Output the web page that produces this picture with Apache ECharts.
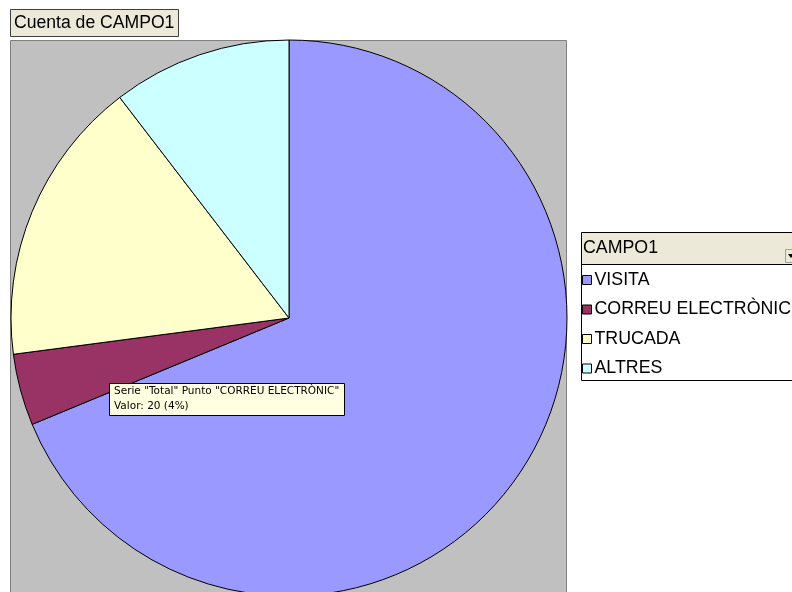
<!DOCTYPE html>
<html>
<head>
<meta charset="utf-8">
<style>
  html, body { margin: 0; padding: 0; background: #ffffff; }
  #chart { width: 792px; height: 592px; }
</style>
<script src="https://cdn.jsdelivr.net/npm/echarts@6/dist/echarts.min.js"></script>
</head>
<body>
<div id="chart"></div>
<script>
// Counts of CAMPO1 by contact type
const categories = ['VISITA', 'CORREU ELECTRÒNIC', 'TRUCADA', 'ALTRES'];
const counts = [330, 20, 80, 50];
const sliceColors = ['#9999FF', '#993366', '#FFFFCC', '#CCFFFF'];
const chartTitle = 'Cuenta de CAMPO1';
const fieldName = 'CAMPO1';
const seriesName = 'Total';
const hoverIndex = 1;

const total = counts.reduce((a, b) => a + b, 0);
const hoverPct = Math.round(counts[hoverIndex] / total * 100);

const chart = echarts.init(document.getElementById('chart'), null, { renderer: 'canvas' });
const FONT = '"Liberation Sans", Arial, sans-serif';
const TIP_FONT = '10.5px "DejaVu Sans", Tahoma, sans-serif';

chart.setOption({
  animation: false,
  backgroundColor: '#ffffff',
  graphic: [
    // plot area
    { type: 'rect', z: 0, shape: { x: 10.5, y: 40.5, width: 556, height: 560 },
      style: { fill: '#C0C0C0', stroke: '#808080', lineWidth: 1 } },
    // chart title box
    { type: 'rect', z: 0, shape: { x: 10.5, y: 9.5, width: 168, height: 27 },
      style: { fill: '#ECE9D8', stroke: '#404040', lineWidth: 1 } },
    { type: 'text', z: 1, x: 14, y: 23,
      style: { text: chartTitle, font: '17.6px ' + FONT, fill: '#000', verticalAlign: 'middle' } },
    // field list box
    { type: 'rect', z: 0, shape: { x: 581.5, y: 232.5, width: 220, height: 148 },
      style: { fill: '#ffffff', stroke: '#000000', lineWidth: 1 } },
    { type: 'rect', z: 0, shape: { x: 582, y: 233, width: 220, height: 31 },
      style: { fill: '#ECE9D8', stroke: null } },
    { type: 'line', z: 1, shape: { x1: 581, y1: 264.5, x2: 792, y2: 264.5 },
      style: { stroke: '#000000', lineWidth: 1 } },
    { type: 'text', z: 1, x: 583, y: 248,
      style: { text: fieldName, font: '17.8px ' + FONT, fill: '#000', verticalAlign: 'middle' } },
    // dropdown button
    { type: 'rect', z: 1, shape: { x: 785.5, y: 249.5, width: 12, height: 13 },
      style: { fill: '#ECE9D8', stroke: '#A0A0A0', lineWidth: 1 } },
    { type: 'polygon', z: 2, shape: { points: [[788, 254], [794, 254], [791, 258]] },
      style: { fill: '#000000' } },
    // hover tip
    { type: 'rect', z: 100, shape: { x: 109.5, y: 383.5, width: 235, height: 32 },
      style: { fill: '#FFFFE1', stroke: '#000000', lineWidth: 1 } },
    { type: 'text', z: 101, x: 114, y: 391,
      style: { text: 'Serie "' + seriesName + '" Punto "' + categories[hoverIndex] + '"',
               font: TIP_FONT, fill: '#000', verticalAlign: 'middle' } },
    { type: 'text', z: 101, x: 114, y: 406,
      style: { text: 'Valor: ' + counts[hoverIndex] + ' (' + hoverPct + '%)',
               font: TIP_FONT, fill: '#000', verticalAlign: 'middle' } }
  ],
  legend: {
    orient: 'vertical',
    left: 582,
    top: 271,
    padding: 0,
    itemGap: 11.5,
    itemWidth: 9,
    itemHeight: 9,
    icon: 'rect',
    selectedMode: false,
    data: categories,
    itemStyle: { borderColor: '#000000', borderWidth: 1 },
    textStyle: { fontSize: 17.8, fontFamily: FONT, color: '#000000', padding: [0, 0, 0, -2] }
  },
  series: [{
    type: 'pie',
    name: seriesName,
    center: [289, 318],
    radius: 278,
    startAngle: 90,
    clockwise: true,
    label: { show: false },
    labelLine: { show: false },
    emphasis: { disabled: true },
    itemStyle: { borderColor: '#000000', borderWidth: 1 },
    data: categories.map((name, i) => ({
      name, value: counts[i], itemStyle: { color: sliceColors[i] }
    }))
  }]
});
</script>
</body>
</html>
